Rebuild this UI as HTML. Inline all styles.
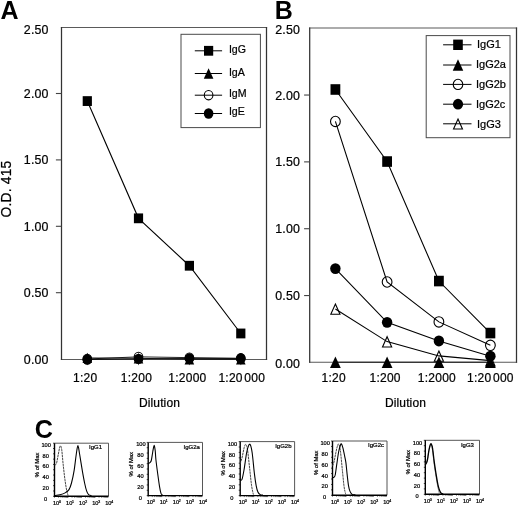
<!DOCTYPE html>
<html><head><meta charset="utf-8"><title>Figure</title>
<style>
html,body{margin:0;padding:0;background:#fff;}
body{width:520px;height:507px;overflow:hidden;font-family:"Liberation Sans",sans-serif;}
svg{display:block;will-change:transform;}
</style></head><body>
<svg width="520" height="507" viewBox="0 0 520 507" font-family="Liberation Sans, sans-serif">
<rect width="520" height="507" fill="#fff"/>
<defs><filter id="soft" x="-5%" y="-5%" width="110%" height="110%"><feGaussianBlur stdDeviation="0.4"/></filter></defs>
<text x="0.60" y="19.20" font-size="25.0" text-anchor="start" font-weight="bold" fill="#000" stroke="#000" stroke-width="0" >A</text>
<text x="274.80" y="19.00" font-size="25.0" text-anchor="start" font-weight="bold" fill="#000" stroke="#000" stroke-width="0" >B</text>
<text x="34.70" y="437.50" font-size="25.2" text-anchor="start" font-weight="bold" fill="#000" stroke="#000" stroke-width="0" >C</text>
<path d="M60.9,27.5 H267.1 M60.9,359.5 H267.1" fill="none" stroke="#5a5a5a" stroke-width="1.15"/>
<path d="M61.5,27.0 V360.0 M266.5,27.0 V360.0" fill="none" stroke="#333" stroke-width="1.25"/>
<line x1="55.9" y1="93.50" x2="61.5" y2="93.50" stroke="#444" stroke-width="1.1"/>
<line x1="55.9" y1="159.90" x2="61.5" y2="159.90" stroke="#444" stroke-width="1.1"/>
<line x1="55.9" y1="226.30" x2="61.5" y2="226.30" stroke="#444" stroke-width="1.1"/>
<line x1="55.9" y1="292.70" x2="61.5" y2="292.70" stroke="#444" stroke-width="1.1"/>
<line x1="87.30" y1="359.5" x2="87.30" y2="365.1" stroke="#555" stroke-width="0.9"/>
<line x1="138.50" y1="359.5" x2="138.50" y2="365.1" stroke="#555" stroke-width="0.9"/>
<line x1="189.40" y1="359.5" x2="189.40" y2="365.1" stroke="#555" stroke-width="0.9"/>
<line x1="240.80" y1="359.5" x2="240.80" y2="365.1" stroke="#555" stroke-width="0.9"/>
<text x="23.80" y="33.60" font-size="12.4" text-anchor="start" font-weight="normal" fill="#000" stroke="#000" stroke-width="0.22" letter-spacing="0.2">2.50</text>
<text x="23.80" y="98.00" font-size="12.4" text-anchor="start" font-weight="normal" fill="#000" stroke="#000" stroke-width="0.22" letter-spacing="0.2">2.00</text>
<text x="23.80" y="164.40" font-size="12.4" text-anchor="start" font-weight="normal" fill="#000" stroke="#000" stroke-width="0.22" letter-spacing="0.2">1.50</text>
<text x="23.80" y="230.80" font-size="12.4" text-anchor="start" font-weight="normal" fill="#000" stroke="#000" stroke-width="0.22" letter-spacing="0.2">1.00</text>
<text x="23.80" y="297.20" font-size="12.4" text-anchor="start" font-weight="normal" fill="#000" stroke="#000" stroke-width="0.22" letter-spacing="0.2">0.50</text>
<text x="23.80" y="364.00" font-size="12.4" text-anchor="start" font-weight="normal" fill="#000" stroke="#000" stroke-width="0.22" letter-spacing="0.2">0.00</text>
<polyline points="87.30,358.97 138.50,356.84 189.40,357.64 240.80,358.30" fill="none" stroke="#000" stroke-width="0.85" />
<polyline points="87.30,357.91 138.50,358.30 189.40,359.23 240.80,359.37" fill="none" stroke="#000" stroke-width="0.85" />
<polyline points="87.30,359.50 138.50,358.97 189.40,358.44 240.80,358.44" fill="none" stroke="#000" stroke-width="0.85" />
<polyline points="87.30,101.07 138.50,218.33 189.40,265.74 240.80,333.47" fill="none" stroke="#000" stroke-width="1.1" />
<ellipse cx="87.30" cy="358.97" rx="4.3" ry="4.65" fill="none" stroke="#000" stroke-width="1.1"/>
<ellipse cx="138.50" cy="356.84" rx="4.3" ry="4.65" fill="none" stroke="#000" stroke-width="1.1"/>
<ellipse cx="189.40" cy="357.64" rx="4.3" ry="4.65" fill="none" stroke="#000" stroke-width="1.1"/>
<ellipse cx="240.80" cy="358.30" rx="4.3" ry="4.65" fill="none" stroke="#000" stroke-width="1.1"/>
<polygon points="87.30,352.71 92.10,363.11 82.50,363.11" fill="#000"/>
<polygon points="138.50,353.10 143.30,363.50 133.70,363.50" fill="#000"/>
<polygon points="189.40,354.03 194.20,364.43 184.60,364.43" fill="#000"/>
<polygon points="240.80,354.17 245.60,364.57 236.00,364.57" fill="#000"/>
<ellipse cx="87.30" cy="359.50" rx="4.8" ry="5.15" fill="#000"/>
<ellipse cx="138.50" cy="358.97" rx="4.8" ry="5.15" fill="#000"/>
<ellipse cx="189.40" cy="358.44" rx="4.8" ry="5.15" fill="#000"/>
<ellipse cx="240.80" cy="358.44" rx="4.8" ry="5.15" fill="#000"/>
<rect x="82.70" y="96.17" width="9.20" height="9.80" fill="#000"/>
<rect x="133.90" y="213.43" width="9.20" height="9.80" fill="#000"/>
<rect x="184.80" y="260.84" width="9.20" height="9.80" fill="#000"/>
<rect x="236.20" y="328.57" width="9.20" height="9.80" fill="#000"/>
<text x="73.00" y="381.70" font-size="12" text-anchor="start" font-weight="normal" fill="#000" stroke="#000" stroke-width="0.22"  letter-spacing="0.25">1:20</text>
<text x="120.80" y="381.70" font-size="12" text-anchor="start" font-weight="normal" fill="#000" stroke="#000" stroke-width="0.22"  letter-spacing="0.25">1:200</text>
<text x="168.30" y="381.70" font-size="12" text-anchor="start" font-weight="normal" fill="#000" stroke="#000" stroke-width="0.22"  letter-spacing="0.25">1:2000</text>
<text x="218.40" y="381.70" font-size="12" text-anchor="start" font-weight="normal" fill="#000" stroke="#000" stroke-width="0.22"  letter-spacing="0.25">1:20<tspan dx="1.6">000</tspan></text>
<text x="139.00" y="406.80" font-size="12" text-anchor="start" font-weight="normal" fill="#000" stroke="#000" stroke-width="0.22" letter-spacing="0.12">Dilution</text>
<text transform="translate(11.2,217.4) rotate(-90)" letter-spacing="0.2" font-size="13.8" fill="#000" stroke="#000" stroke-width="0.22">O.D. 415</text>
<rect x="181" y="34.3" width="79.4" height="93.3" fill="none" stroke="#4a4a4a" stroke-width="1.0"/>
<polyline points="194.80,50.80 222.10,50.80" fill="none" stroke="#000" stroke-width="1.0" />
<rect x="204.00" y="45.90" width="9.20" height="9.80" fill="#000"/>
<text x="228.90" y="53.00" font-size="10.6" text-anchor="start" font-weight="normal" fill="#000" stroke="#000" stroke-width="0.22" >IgG</text>
<polyline points="194.80,73.50 222.10,73.50" fill="none" stroke="#000" stroke-width="1.0" />
<polygon points="208.60,68.30 213.40,78.70 203.80,78.70" fill="#000"/>
<text x="228.90" y="75.90" font-size="10.6" text-anchor="start" font-weight="normal" fill="#000" stroke="#000" stroke-width="0.22" >IgA</text>
<polyline points="194.80,95.20 222.10,95.20" fill="none" stroke="#000" stroke-width="1.0" />
<ellipse cx="208.60" cy="95.20" rx="4.3" ry="4.65" fill="none" stroke="#000" stroke-width="1.1"/>
<text x="228.90" y="97.30" font-size="10.6" text-anchor="start" font-weight="normal" fill="#000" stroke="#000" stroke-width="0.22" >IgM</text>
<polyline points="194.80,113.50 222.10,113.50" fill="none" stroke="#000" stroke-width="1.0" />
<ellipse cx="208.60" cy="113.50" rx="4.8" ry="5.15" fill="#000"/>
<text x="228.90" y="115.30" font-size="10.6" text-anchor="start" font-weight="normal" fill="#000" stroke="#000" stroke-width="0.22" >IgE</text>
<path d="M309.09999999999997,28.0 H517.1 M309.09999999999997,362.2 H517.1" fill="none" stroke="#5a5a5a" stroke-width="1.15"/>
<path d="M309.7,27.5 V362.7 M516.5,27.5 V362.7" fill="none" stroke="#333" stroke-width="1.25"/>
<line x1="304.09999999999997" y1="95.04" x2="309.7" y2="95.04" stroke="#444" stroke-width="1.1"/>
<line x1="304.09999999999997" y1="161.88" x2="309.7" y2="161.88" stroke="#444" stroke-width="1.1"/>
<line x1="304.09999999999997" y1="228.72" x2="309.7" y2="228.72" stroke="#444" stroke-width="1.1"/>
<line x1="304.09999999999997" y1="295.56" x2="309.7" y2="295.56" stroke="#444" stroke-width="1.1"/>
<line x1="335.40" y1="362.2" x2="335.40" y2="367.8" stroke="#555" stroke-width="0.9"/>
<line x1="387.10" y1="362.2" x2="387.10" y2="367.8" stroke="#555" stroke-width="0.9"/>
<line x1="438.90" y1="362.2" x2="438.90" y2="367.8" stroke="#555" stroke-width="0.9"/>
<line x1="490.40" y1="362.2" x2="490.40" y2="367.8" stroke="#555" stroke-width="0.9"/>
<text x="275.20" y="34.10" font-size="12.4" text-anchor="start" font-weight="normal" fill="#000" stroke="#000" stroke-width="0.22" letter-spacing="0.2">2.50</text>
<text x="275.20" y="99.54" font-size="12.4" text-anchor="start" font-weight="normal" fill="#000" stroke="#000" stroke-width="0.22" letter-spacing="0.2">2.00</text>
<text x="275.20" y="166.38" font-size="12.4" text-anchor="start" font-weight="normal" fill="#000" stroke="#000" stroke-width="0.22" letter-spacing="0.2">1.50</text>
<text x="275.20" y="233.22" font-size="12.4" text-anchor="start" font-weight="normal" fill="#000" stroke="#000" stroke-width="0.22" letter-spacing="0.2">1.00</text>
<text x="275.20" y="300.06" font-size="12.4" text-anchor="start" font-weight="normal" fill="#000" stroke="#000" stroke-width="0.22" letter-spacing="0.2">0.50</text>
<text x="275.20" y="367.50" font-size="12.4" text-anchor="start" font-weight="normal" fill="#000" stroke="#000" stroke-width="0.22" letter-spacing="0.2">0.00</text>
<polyline points="335.40,362.20 387.10,362.20 438.90,362.20 490.40,362.20" fill="none" stroke="#000" stroke-width="0.85" />
<polyline points="335.40,309.00 387.10,341.61 438.90,355.92 490.40,360.60" fill="none" stroke="#000" stroke-width="1.1" />
<polyline points="335.40,268.62 387.10,322.36 438.90,340.94 490.40,356.18" fill="none" stroke="#000" stroke-width="1.1" />
<polyline points="335.40,121.44 387.10,281.99 438.90,321.90 490.40,345.36" fill="none" stroke="#000" stroke-width="1.1" />
<polyline points="335.40,89.49 387.10,161.55 438.90,281.06 490.40,333.06" fill="none" stroke="#000" stroke-width="1.1" />
<polygon points="335.40,356.38 340.78,368.02 330.02,368.02" fill="#000"/>
<polygon points="387.10,356.38 392.48,368.02 381.72,368.02" fill="#000"/>
<polygon points="438.90,356.38 444.28,368.02 433.52,368.02" fill="#000"/>
<polygon points="490.40,356.38 495.78,368.02 485.02,368.02" fill="#000"/>
<polygon points="335.40,304.07 339.98,314.32 330.82,314.32" fill="none" stroke="#000" stroke-width="1.1" stroke-linejoin="miter"/>
<polygon points="387.10,336.69 391.68,346.94 382.52,346.94" fill="none" stroke="#000" stroke-width="1.1" stroke-linejoin="miter"/>
<polygon points="438.90,350.99 443.48,361.24 434.32,361.24" fill="none" stroke="#000" stroke-width="1.1" stroke-linejoin="miter"/>
<polygon points="490.40,355.67 494.98,365.92 485.82,365.92" fill="none" stroke="#000" stroke-width="1.1" stroke-linejoin="miter"/>
<ellipse cx="335.40" cy="268.62" rx="5.21472" ry="5.4796000000000005" fill="#000"/>
<ellipse cx="387.10" cy="322.36" rx="5.21472" ry="5.4796000000000005" fill="#000"/>
<ellipse cx="438.90" cy="340.94" rx="5.21472" ry="5.4796000000000005" fill="#000"/>
<ellipse cx="490.40" cy="356.18" rx="5.21472" ry="5.4796000000000005" fill="#000"/>
<ellipse cx="335.40" cy="121.44" rx="4.876" ry="5.21032" fill="none" stroke="#000" stroke-width="1.1"/>
<ellipse cx="387.10" cy="281.99" rx="4.876" ry="5.21032" fill="none" stroke="#000" stroke-width="1.1"/>
<ellipse cx="438.90" cy="321.90" rx="4.876" ry="5.21032" fill="none" stroke="#000" stroke-width="1.1"/>
<ellipse cx="490.40" cy="345.36" rx="4.876" ry="5.21032" fill="none" stroke="#000" stroke-width="1.1"/>
<rect x="330.51" y="84.20" width="9.79" height="10.59" fill="#000"/>
<rect x="382.21" y="156.25" width="9.79" height="10.59" fill="#000"/>
<rect x="434.01" y="275.76" width="9.79" height="10.59" fill="#000"/>
<rect x="485.51" y="327.76" width="9.79" height="10.59" fill="#000"/>
<text x="321.50" y="381.60" font-size="12" text-anchor="start" font-weight="normal" fill="#000" stroke="#000" stroke-width="0.22"  letter-spacing="0.25">1:20</text>
<text x="369.50" y="381.60" font-size="12" text-anchor="start" font-weight="normal" fill="#000" stroke="#000" stroke-width="0.22"  letter-spacing="0.25">1:200</text>
<text x="417.80" y="381.60" font-size="12" text-anchor="start" font-weight="normal" fill="#000" stroke="#000" stroke-width="0.22"  letter-spacing="0.25">1:2000</text>
<text x="467.00" y="381.80" font-size="12" text-anchor="start" font-weight="normal" fill="#000" stroke="#000" stroke-width="0.22"  letter-spacing="0.25">1:20<tspan dx="1.6">000</tspan></text>
<text x="385.00" y="406.80" font-size="12" text-anchor="start" font-weight="normal" fill="#000" stroke="#000" stroke-width="0.22" letter-spacing="0.12">Dilution</text>
<rect x="426.2" y="35.6" width="83.8" height="102.1" fill="none" stroke="#4a4a4a" stroke-width="1.0"/>
<polyline points="443.10,44.80 471.50,44.80" fill="none" stroke="#000" stroke-width="1.0" />
<rect x="453.19" y="39.60" width="9.61" height="10.40" fill="#000"/>
<text x="477.00" y="47.60" font-size="11" text-anchor="start" font-weight="normal" fill="#000" stroke="#000" stroke-width="0.22" >IgG1</text>
<polyline points="443.10,65.00 471.50,65.00" fill="none" stroke="#000" stroke-width="1.0" />
<polygon points="458.00,59.28 463.28,70.72 452.72,70.72" fill="#000"/>
<text x="476.00" y="68.30" font-size="11" text-anchor="start" font-weight="normal" fill="#000" stroke="#000" stroke-width="0.22" >IgG2a</text>
<polyline points="443.10,84.40 471.50,84.40" fill="none" stroke="#000" stroke-width="1.0" />
<ellipse cx="458.00" cy="84.40" rx="4.78" ry="5.108350000000001" fill="none" stroke="#000" stroke-width="1.1"/>
<text x="476.00" y="87.70" font-size="11" text-anchor="start" font-weight="normal" fill="#000" stroke="#000" stroke-width="0.22" >IgG2b</text>
<polyline points="443.10,104.20 471.50,104.20" fill="none" stroke="#000" stroke-width="1.0" />
<ellipse cx="458.00" cy="104.20" rx="5.1216" ry="5.38175" fill="#000"/>
<text x="476.00" y="107.50" font-size="11" text-anchor="start" font-weight="normal" fill="#000" stroke="#000" stroke-width="0.22" >IgG2c</text>
<polyline points="443.10,123.80 471.50,123.80" fill="none" stroke="#000" stroke-width="1.0" />
<polygon points="458.00,118.98 462.48,129.02 453.52,129.02" fill="none" stroke="#000" stroke-width="1.1" stroke-linejoin="miter"/>
<text x="477.00" y="127.70" font-size="11" text-anchor="start" font-weight="normal" fill="#000" stroke="#000" stroke-width="0.22" >IgG3</text>
<g filter="url(#soft)">
<path d="M54.5,443.2 H108.5 V496.3" fill="none" stroke="#444" stroke-width="0.9"/>
<path d="M54.5,443.2 V496.3 H108.5" fill="none" stroke="#000" stroke-width="1.4"/>
<line x1="53.0" y1="496.30" x2="54.5" y2="496.30" stroke="#000" stroke-width="0.7"/>
<line x1="53.0" y1="490.99" x2="54.5" y2="490.99" stroke="#000" stroke-width="0.7"/>
<line x1="53.0" y1="485.68" x2="54.5" y2="485.68" stroke="#000" stroke-width="0.7"/>
<line x1="53.0" y1="480.37" x2="54.5" y2="480.37" stroke="#000" stroke-width="0.7"/>
<line x1="53.0" y1="475.06" x2="54.5" y2="475.06" stroke="#000" stroke-width="0.7"/>
<line x1="53.0" y1="469.75" x2="54.5" y2="469.75" stroke="#000" stroke-width="0.7"/>
<line x1="53.0" y1="464.44" x2="54.5" y2="464.44" stroke="#000" stroke-width="0.7"/>
<line x1="53.0" y1="459.13" x2="54.5" y2="459.13" stroke="#000" stroke-width="0.7"/>
<line x1="53.0" y1="453.82" x2="54.5" y2="453.82" stroke="#000" stroke-width="0.7"/>
<line x1="53.0" y1="448.51" x2="54.5" y2="448.51" stroke="#000" stroke-width="0.7"/>
<line x1="53.0" y1="443.20" x2="54.5" y2="443.20" stroke="#000" stroke-width="0.7"/>
<line x1="54.50" y1="496.3" x2="54.50" y2="497.8" stroke="#000" stroke-width="0.5"/>
<line x1="58.56" y1="496.3" x2="58.56" y2="497.8" stroke="#000" stroke-width="0.5"/>
<line x1="60.94" y1="496.3" x2="60.94" y2="497.8" stroke="#000" stroke-width="0.5"/>
<line x1="62.63" y1="496.3" x2="62.63" y2="497.8" stroke="#000" stroke-width="0.5"/>
<line x1="63.94" y1="496.3" x2="63.94" y2="497.8" stroke="#000" stroke-width="0.5"/>
<line x1="65.01" y1="496.3" x2="65.01" y2="497.8" stroke="#000" stroke-width="0.5"/>
<line x1="65.91" y1="496.3" x2="65.91" y2="497.8" stroke="#000" stroke-width="0.5"/>
<line x1="66.69" y1="496.3" x2="66.69" y2="497.8" stroke="#000" stroke-width="0.5"/>
<line x1="67.38" y1="496.3" x2="67.38" y2="497.8" stroke="#000" stroke-width="0.5"/>
<line x1="68.00" y1="496.3" x2="68.00" y2="497.8" stroke="#000" stroke-width="0.5"/>
<line x1="72.06" y1="496.3" x2="72.06" y2="497.8" stroke="#000" stroke-width="0.5"/>
<line x1="74.44" y1="496.3" x2="74.44" y2="497.8" stroke="#000" stroke-width="0.5"/>
<line x1="76.13" y1="496.3" x2="76.13" y2="497.8" stroke="#000" stroke-width="0.5"/>
<line x1="77.44" y1="496.3" x2="77.44" y2="497.8" stroke="#000" stroke-width="0.5"/>
<line x1="78.51" y1="496.3" x2="78.51" y2="497.8" stroke="#000" stroke-width="0.5"/>
<line x1="79.41" y1="496.3" x2="79.41" y2="497.8" stroke="#000" stroke-width="0.5"/>
<line x1="80.19" y1="496.3" x2="80.19" y2="497.8" stroke="#000" stroke-width="0.5"/>
<line x1="80.88" y1="496.3" x2="80.88" y2="497.8" stroke="#000" stroke-width="0.5"/>
<line x1="81.50" y1="496.3" x2="81.50" y2="497.8" stroke="#000" stroke-width="0.5"/>
<line x1="85.56" y1="496.3" x2="85.56" y2="497.8" stroke="#000" stroke-width="0.5"/>
<line x1="87.94" y1="496.3" x2="87.94" y2="497.8" stroke="#000" stroke-width="0.5"/>
<line x1="89.63" y1="496.3" x2="89.63" y2="497.8" stroke="#000" stroke-width="0.5"/>
<line x1="90.94" y1="496.3" x2="90.94" y2="497.8" stroke="#000" stroke-width="0.5"/>
<line x1="92.01" y1="496.3" x2="92.01" y2="497.8" stroke="#000" stroke-width="0.5"/>
<line x1="92.91" y1="496.3" x2="92.91" y2="497.8" stroke="#000" stroke-width="0.5"/>
<line x1="93.69" y1="496.3" x2="93.69" y2="497.8" stroke="#000" stroke-width="0.5"/>
<line x1="94.38" y1="496.3" x2="94.38" y2="497.8" stroke="#000" stroke-width="0.5"/>
<line x1="95.00" y1="496.3" x2="95.00" y2="497.8" stroke="#000" stroke-width="0.5"/>
<line x1="99.06" y1="496.3" x2="99.06" y2="497.8" stroke="#000" stroke-width="0.5"/>
<line x1="101.44" y1="496.3" x2="101.44" y2="497.8" stroke="#000" stroke-width="0.5"/>
<line x1="103.13" y1="496.3" x2="103.13" y2="497.8" stroke="#000" stroke-width="0.5"/>
<line x1="104.44" y1="496.3" x2="104.44" y2="497.8" stroke="#000" stroke-width="0.5"/>
<line x1="105.51" y1="496.3" x2="105.51" y2="497.8" stroke="#000" stroke-width="0.5"/>
<line x1="106.41" y1="496.3" x2="106.41" y2="497.8" stroke="#000" stroke-width="0.5"/>
<line x1="107.19" y1="496.3" x2="107.19" y2="497.8" stroke="#000" stroke-width="0.5"/>
<line x1="107.88" y1="496.3" x2="107.88" y2="497.8" stroke="#000" stroke-width="0.5"/>
<text x="45.70" y="500.65" font-size="5.7" text-anchor="middle" font-weight="normal" fill="#000" stroke="#000" stroke-width="0.22" >0</text>
<text x="45.70" y="489.93" font-size="5.7" text-anchor="middle" font-weight="normal" fill="#000" stroke="#000" stroke-width="0.22" >20</text>
<text x="45.70" y="479.21" font-size="5.7" text-anchor="middle" font-weight="normal" fill="#000" stroke="#000" stroke-width="0.22" >40</text>
<text x="45.70" y="468.49" font-size="5.7" text-anchor="middle" font-weight="normal" fill="#000" stroke="#000" stroke-width="0.22" >60</text>
<text x="45.70" y="457.77" font-size="5.7" text-anchor="middle" font-weight="normal" fill="#000" stroke="#000" stroke-width="0.22" >80</text>
<text x="46.20" y="447.05" font-size="5.7" text-anchor="middle" font-weight="normal" fill="#000" stroke="#000" stroke-width="0.22" >100</text>
<text x="53.00" y="505.10" font-size="5.6" text-anchor="start" font-weight="normal" fill="#000" stroke="#000" stroke-width="0.22" >10<tspan font-size="3.5" dx="-0.2" dy="-2.1">0</tspan></text>
<text x="66.05" y="505.10" font-size="5.6" text-anchor="start" font-weight="normal" fill="#000" stroke="#000" stroke-width="0.22" >10<tspan font-size="3.5" dx="-0.2" dy="-2.1">1</tspan></text>
<text x="79.10" y="505.10" font-size="5.6" text-anchor="start" font-weight="normal" fill="#000" stroke="#000" stroke-width="0.22" >10<tspan font-size="3.5" dx="-0.2" dy="-2.1">2</tspan></text>
<text x="92.15" y="505.10" font-size="5.6" text-anchor="start" font-weight="normal" fill="#000" stroke="#000" stroke-width="0.22" >10<tspan font-size="3.5" dx="-0.2" dy="-2.1">3</tspan></text>
<text x="105.20" y="505.10" font-size="5.6" text-anchor="start" font-weight="normal" fill="#000" stroke="#000" stroke-width="0.22" >10<tspan font-size="3.5" dx="-0.2" dy="-2.1">4</tspan></text>
<text transform="translate(39.10,477.20) rotate(-90)" font-size="5.9" fill="#000" stroke="#000" stroke-width="0.22">% of Max</text>
<text x="89.00" y="449.40" font-size="6.0" text-anchor="start" font-weight="normal" fill="#000" stroke="#000" stroke-width="0.22" >IgG1</text>
<path d="M54.50,465.00 C54.80,464.78 55.79,465.31 56.40,463.60 C57.01,461.89 57.80,456.75 58.30,454.30 C58.80,451.85 59.15,449.66 59.50,448.30 C59.85,446.94 60.15,445.61 60.50,445.80 C60.85,445.99 61.28,446.62 61.70,449.50 C62.12,452.38 62.59,459.03 63.10,463.80 C63.61,468.57 64.32,475.01 64.90,479.30 C65.48,483.59 66.17,487.96 66.70,490.60 C67.23,493.24 67.96,494.97 68.20,495.80" fill="none" stroke="#3c3c3c" stroke-width="0.95" stroke-dasharray="2.4,0.6"/>
<path d="M54.50,495.70 C55.38,495.56 58.30,495.25 60.00,494.80 C61.70,494.35 63.66,493.73 65.10,492.90 C66.54,492.07 67.98,491.18 69.00,489.60 C70.02,488.02 70.68,486.02 71.50,483.00 C72.32,479.98 73.33,475.34 74.10,470.70 C74.87,466.06 75.69,458.02 76.30,454.00 C76.91,449.98 77.37,445.60 77.90,445.60 C78.43,445.60 78.90,449.98 79.60,454.00 C80.30,458.02 81.50,466.06 82.30,470.70 C83.10,475.34 83.91,479.77 84.60,483.00 C85.29,486.23 85.96,489.03 86.60,490.90 C87.24,492.77 87.82,493.93 88.60,494.70 C89.38,495.47 91.04,495.54 91.50,495.70" fill="none" stroke="#000" stroke-width="1.08" stroke-linejoin="round"/>
</g>
<g filter="url(#soft)">
<path d="M148.2,442.4 H202.5 V495.6" fill="none" stroke="#444" stroke-width="0.9"/>
<path d="M148.2,442.4 V495.6 H202.5" fill="none" stroke="#000" stroke-width="1.4"/>
<line x1="146.7" y1="495.60" x2="148.2" y2="495.60" stroke="#000" stroke-width="0.7"/>
<line x1="146.7" y1="490.28" x2="148.2" y2="490.28" stroke="#000" stroke-width="0.7"/>
<line x1="146.7" y1="484.96" x2="148.2" y2="484.96" stroke="#000" stroke-width="0.7"/>
<line x1="146.7" y1="479.64" x2="148.2" y2="479.64" stroke="#000" stroke-width="0.7"/>
<line x1="146.7" y1="474.32" x2="148.2" y2="474.32" stroke="#000" stroke-width="0.7"/>
<line x1="146.7" y1="469.00" x2="148.2" y2="469.00" stroke="#000" stroke-width="0.7"/>
<line x1="146.7" y1="463.68" x2="148.2" y2="463.68" stroke="#000" stroke-width="0.7"/>
<line x1="146.7" y1="458.36" x2="148.2" y2="458.36" stroke="#000" stroke-width="0.7"/>
<line x1="146.7" y1="453.04" x2="148.2" y2="453.04" stroke="#000" stroke-width="0.7"/>
<line x1="146.7" y1="447.72" x2="148.2" y2="447.72" stroke="#000" stroke-width="0.7"/>
<line x1="146.7" y1="442.40" x2="148.2" y2="442.40" stroke="#000" stroke-width="0.7"/>
<line x1="148.20" y1="495.6" x2="148.20" y2="497.1" stroke="#000" stroke-width="0.5"/>
<line x1="152.29" y1="495.6" x2="152.29" y2="497.1" stroke="#000" stroke-width="0.5"/>
<line x1="154.68" y1="495.6" x2="154.68" y2="497.1" stroke="#000" stroke-width="0.5"/>
<line x1="156.37" y1="495.6" x2="156.37" y2="497.1" stroke="#000" stroke-width="0.5"/>
<line x1="157.69" y1="495.6" x2="157.69" y2="497.1" stroke="#000" stroke-width="0.5"/>
<line x1="158.76" y1="495.6" x2="158.76" y2="497.1" stroke="#000" stroke-width="0.5"/>
<line x1="159.67" y1="495.6" x2="159.67" y2="497.1" stroke="#000" stroke-width="0.5"/>
<line x1="160.46" y1="495.6" x2="160.46" y2="497.1" stroke="#000" stroke-width="0.5"/>
<line x1="161.15" y1="495.6" x2="161.15" y2="497.1" stroke="#000" stroke-width="0.5"/>
<line x1="161.77" y1="495.6" x2="161.77" y2="497.1" stroke="#000" stroke-width="0.5"/>
<line x1="165.86" y1="495.6" x2="165.86" y2="497.1" stroke="#000" stroke-width="0.5"/>
<line x1="168.25" y1="495.6" x2="168.25" y2="497.1" stroke="#000" stroke-width="0.5"/>
<line x1="169.95" y1="495.6" x2="169.95" y2="497.1" stroke="#000" stroke-width="0.5"/>
<line x1="171.26" y1="495.6" x2="171.26" y2="497.1" stroke="#000" stroke-width="0.5"/>
<line x1="172.34" y1="495.6" x2="172.34" y2="497.1" stroke="#000" stroke-width="0.5"/>
<line x1="173.25" y1="495.6" x2="173.25" y2="497.1" stroke="#000" stroke-width="0.5"/>
<line x1="174.03" y1="495.6" x2="174.03" y2="497.1" stroke="#000" stroke-width="0.5"/>
<line x1="174.73" y1="495.6" x2="174.73" y2="497.1" stroke="#000" stroke-width="0.5"/>
<line x1="175.35" y1="495.6" x2="175.35" y2="497.1" stroke="#000" stroke-width="0.5"/>
<line x1="179.44" y1="495.6" x2="179.44" y2="497.1" stroke="#000" stroke-width="0.5"/>
<line x1="181.83" y1="495.6" x2="181.83" y2="497.1" stroke="#000" stroke-width="0.5"/>
<line x1="183.52" y1="495.6" x2="183.52" y2="497.1" stroke="#000" stroke-width="0.5"/>
<line x1="184.84" y1="495.6" x2="184.84" y2="497.1" stroke="#000" stroke-width="0.5"/>
<line x1="185.91" y1="495.6" x2="185.91" y2="497.1" stroke="#000" stroke-width="0.5"/>
<line x1="186.82" y1="495.6" x2="186.82" y2="497.1" stroke="#000" stroke-width="0.5"/>
<line x1="187.61" y1="495.6" x2="187.61" y2="497.1" stroke="#000" stroke-width="0.5"/>
<line x1="188.30" y1="495.6" x2="188.30" y2="497.1" stroke="#000" stroke-width="0.5"/>
<line x1="188.93" y1="495.6" x2="188.93" y2="497.1" stroke="#000" stroke-width="0.5"/>
<line x1="193.01" y1="495.6" x2="193.01" y2="497.1" stroke="#000" stroke-width="0.5"/>
<line x1="195.40" y1="495.6" x2="195.40" y2="497.1" stroke="#000" stroke-width="0.5"/>
<line x1="197.10" y1="495.6" x2="197.10" y2="497.1" stroke="#000" stroke-width="0.5"/>
<line x1="198.41" y1="495.6" x2="198.41" y2="497.1" stroke="#000" stroke-width="0.5"/>
<line x1="199.49" y1="495.6" x2="199.49" y2="497.1" stroke="#000" stroke-width="0.5"/>
<line x1="200.40" y1="495.6" x2="200.40" y2="497.1" stroke="#000" stroke-width="0.5"/>
<line x1="201.18" y1="495.6" x2="201.18" y2="497.1" stroke="#000" stroke-width="0.5"/>
<line x1="201.88" y1="495.6" x2="201.88" y2="497.1" stroke="#000" stroke-width="0.5"/>
<text x="140.40" y="499.85" font-size="5.7" text-anchor="middle" font-weight="normal" fill="#000" stroke="#000" stroke-width="0.22" >0</text>
<text x="140.40" y="489.13" font-size="5.7" text-anchor="middle" font-weight="normal" fill="#000" stroke="#000" stroke-width="0.22" >20</text>
<text x="140.40" y="478.41" font-size="5.7" text-anchor="middle" font-weight="normal" fill="#000" stroke="#000" stroke-width="0.22" >40</text>
<text x="140.40" y="467.69" font-size="5.7" text-anchor="middle" font-weight="normal" fill="#000" stroke="#000" stroke-width="0.22" >60</text>
<text x="140.40" y="456.97" font-size="5.7" text-anchor="middle" font-weight="normal" fill="#000" stroke="#000" stroke-width="0.22" >80</text>
<text x="140.90" y="446.25" font-size="5.7" text-anchor="middle" font-weight="normal" fill="#000" stroke="#000" stroke-width="0.22" >100</text>
<text x="146.70" y="504.40" font-size="5.6" text-anchor="start" font-weight="normal" fill="#000" stroke="#000" stroke-width="0.22" >10<tspan font-size="3.5" dx="-0.2" dy="-2.1">0</tspan></text>
<text x="159.75" y="504.40" font-size="5.6" text-anchor="start" font-weight="normal" fill="#000" stroke="#000" stroke-width="0.22" >10<tspan font-size="3.5" dx="-0.2" dy="-2.1">1</tspan></text>
<text x="172.80" y="504.40" font-size="5.6" text-anchor="start" font-weight="normal" fill="#000" stroke="#000" stroke-width="0.22" >10<tspan font-size="3.5" dx="-0.2" dy="-2.1">2</tspan></text>
<text x="185.85" y="504.40" font-size="5.6" text-anchor="start" font-weight="normal" fill="#000" stroke="#000" stroke-width="0.22" >10<tspan font-size="3.5" dx="-0.2" dy="-2.1">3</tspan></text>
<text x="198.90" y="504.40" font-size="5.6" text-anchor="start" font-weight="normal" fill="#000" stroke="#000" stroke-width="0.22" >10<tspan font-size="3.5" dx="-0.2" dy="-2.1">4</tspan></text>
<text transform="translate(132.80,476.40) rotate(-90)" font-size="5.9" fill="#000" stroke="#000" stroke-width="0.22">% of Max</text>
<text x="183.60" y="448.60" font-size="6.0" text-anchor="start" font-weight="normal" fill="#000" stroke="#000" stroke-width="0.22" >IgG2a</text>
<path d="M148.20,463.60 C148.52,463.41 149.69,462.98 150.20,462.40 C150.71,461.82 150.98,461.74 151.40,460.00 C151.82,458.26 152.37,453.84 152.80,451.50 C153.23,449.16 153.72,445.56 154.10,445.40 C154.48,445.24 154.91,448.24 155.20,450.50 C155.49,452.76 155.50,455.77 155.90,459.50 C156.30,463.23 157.12,469.51 157.70,473.80 C158.28,478.09 158.97,483.16 159.50,486.30 C160.03,489.44 160.54,492.01 161.00,493.40 C161.46,494.79 162.18,494.74 162.40,495.00" fill="none" stroke="#000" stroke-width="1.08" stroke-linejoin="round"/>
</g>
<g filter="url(#soft)">
<path d="M240.2,441.6 H294.6 V495.6" fill="none" stroke="#444" stroke-width="0.9"/>
<path d="M240.2,441.6 V495.6 H294.6" fill="none" stroke="#000" stroke-width="1.4"/>
<line x1="238.7" y1="495.60" x2="240.2" y2="495.60" stroke="#000" stroke-width="0.7"/>
<line x1="238.7" y1="490.20" x2="240.2" y2="490.20" stroke="#000" stroke-width="0.7"/>
<line x1="238.7" y1="484.80" x2="240.2" y2="484.80" stroke="#000" stroke-width="0.7"/>
<line x1="238.7" y1="479.40" x2="240.2" y2="479.40" stroke="#000" stroke-width="0.7"/>
<line x1="238.7" y1="474.00" x2="240.2" y2="474.00" stroke="#000" stroke-width="0.7"/>
<line x1="238.7" y1="468.60" x2="240.2" y2="468.60" stroke="#000" stroke-width="0.7"/>
<line x1="238.7" y1="463.20" x2="240.2" y2="463.20" stroke="#000" stroke-width="0.7"/>
<line x1="238.7" y1="457.80" x2="240.2" y2="457.80" stroke="#000" stroke-width="0.7"/>
<line x1="238.7" y1="452.40" x2="240.2" y2="452.40" stroke="#000" stroke-width="0.7"/>
<line x1="238.7" y1="447.00" x2="240.2" y2="447.00" stroke="#000" stroke-width="0.7"/>
<line x1="238.7" y1="441.60" x2="240.2" y2="441.60" stroke="#000" stroke-width="0.7"/>
<line x1="240.20" y1="495.6" x2="240.20" y2="497.1" stroke="#000" stroke-width="0.5"/>
<line x1="244.29" y1="495.6" x2="244.29" y2="497.1" stroke="#000" stroke-width="0.5"/>
<line x1="246.69" y1="495.6" x2="246.69" y2="497.1" stroke="#000" stroke-width="0.5"/>
<line x1="248.39" y1="495.6" x2="248.39" y2="497.1" stroke="#000" stroke-width="0.5"/>
<line x1="249.71" y1="495.6" x2="249.71" y2="497.1" stroke="#000" stroke-width="0.5"/>
<line x1="250.78" y1="495.6" x2="250.78" y2="497.1" stroke="#000" stroke-width="0.5"/>
<line x1="251.69" y1="495.6" x2="251.69" y2="497.1" stroke="#000" stroke-width="0.5"/>
<line x1="252.48" y1="495.6" x2="252.48" y2="497.1" stroke="#000" stroke-width="0.5"/>
<line x1="253.18" y1="495.6" x2="253.18" y2="497.1" stroke="#000" stroke-width="0.5"/>
<line x1="253.80" y1="495.6" x2="253.80" y2="497.1" stroke="#000" stroke-width="0.5"/>
<line x1="257.89" y1="495.6" x2="257.89" y2="497.1" stroke="#000" stroke-width="0.5"/>
<line x1="260.29" y1="495.6" x2="260.29" y2="497.1" stroke="#000" stroke-width="0.5"/>
<line x1="261.99" y1="495.6" x2="261.99" y2="497.1" stroke="#000" stroke-width="0.5"/>
<line x1="263.31" y1="495.6" x2="263.31" y2="497.1" stroke="#000" stroke-width="0.5"/>
<line x1="264.38" y1="495.6" x2="264.38" y2="497.1" stroke="#000" stroke-width="0.5"/>
<line x1="265.29" y1="495.6" x2="265.29" y2="497.1" stroke="#000" stroke-width="0.5"/>
<line x1="266.08" y1="495.6" x2="266.08" y2="497.1" stroke="#000" stroke-width="0.5"/>
<line x1="266.78" y1="495.6" x2="266.78" y2="497.1" stroke="#000" stroke-width="0.5"/>
<line x1="267.40" y1="495.6" x2="267.40" y2="497.1" stroke="#000" stroke-width="0.5"/>
<line x1="271.49" y1="495.6" x2="271.49" y2="497.1" stroke="#000" stroke-width="0.5"/>
<line x1="273.89" y1="495.6" x2="273.89" y2="497.1" stroke="#000" stroke-width="0.5"/>
<line x1="275.59" y1="495.6" x2="275.59" y2="497.1" stroke="#000" stroke-width="0.5"/>
<line x1="276.91" y1="495.6" x2="276.91" y2="497.1" stroke="#000" stroke-width="0.5"/>
<line x1="277.98" y1="495.6" x2="277.98" y2="497.1" stroke="#000" stroke-width="0.5"/>
<line x1="278.89" y1="495.6" x2="278.89" y2="497.1" stroke="#000" stroke-width="0.5"/>
<line x1="279.68" y1="495.6" x2="279.68" y2="497.1" stroke="#000" stroke-width="0.5"/>
<line x1="280.38" y1="495.6" x2="280.38" y2="497.1" stroke="#000" stroke-width="0.5"/>
<line x1="281.00" y1="495.6" x2="281.00" y2="497.1" stroke="#000" stroke-width="0.5"/>
<line x1="285.09" y1="495.6" x2="285.09" y2="497.1" stroke="#000" stroke-width="0.5"/>
<line x1="287.49" y1="495.6" x2="287.49" y2="497.1" stroke="#000" stroke-width="0.5"/>
<line x1="289.19" y1="495.6" x2="289.19" y2="497.1" stroke="#000" stroke-width="0.5"/>
<line x1="290.51" y1="495.6" x2="290.51" y2="497.1" stroke="#000" stroke-width="0.5"/>
<line x1="291.58" y1="495.6" x2="291.58" y2="497.1" stroke="#000" stroke-width="0.5"/>
<line x1="292.49" y1="495.6" x2="292.49" y2="497.1" stroke="#000" stroke-width="0.5"/>
<line x1="293.28" y1="495.6" x2="293.28" y2="497.1" stroke="#000" stroke-width="0.5"/>
<line x1="293.98" y1="495.6" x2="293.98" y2="497.1" stroke="#000" stroke-width="0.5"/>
<text x="231.90" y="499.65" font-size="5.7" text-anchor="middle" font-weight="normal" fill="#000" stroke="#000" stroke-width="0.22" >0</text>
<text x="231.90" y="488.93" font-size="5.7" text-anchor="middle" font-weight="normal" fill="#000" stroke="#000" stroke-width="0.22" >20</text>
<text x="231.90" y="478.21" font-size="5.7" text-anchor="middle" font-weight="normal" fill="#000" stroke="#000" stroke-width="0.22" >40</text>
<text x="231.90" y="467.49" font-size="5.7" text-anchor="middle" font-weight="normal" fill="#000" stroke="#000" stroke-width="0.22" >60</text>
<text x="231.90" y="456.77" font-size="5.7" text-anchor="middle" font-weight="normal" fill="#000" stroke="#000" stroke-width="0.22" >80</text>
<text x="232.40" y="446.05" font-size="5.7" text-anchor="middle" font-weight="normal" fill="#000" stroke="#000" stroke-width="0.22" >100</text>
<text x="238.70" y="504.40" font-size="5.6" text-anchor="start" font-weight="normal" fill="#000" stroke="#000" stroke-width="0.22" >10<tspan font-size="3.5" dx="-0.2" dy="-2.1">0</tspan></text>
<text x="251.75" y="504.40" font-size="5.6" text-anchor="start" font-weight="normal" fill="#000" stroke="#000" stroke-width="0.22" >10<tspan font-size="3.5" dx="-0.2" dy="-2.1">1</tspan></text>
<text x="264.80" y="504.40" font-size="5.6" text-anchor="start" font-weight="normal" fill="#000" stroke="#000" stroke-width="0.22" >10<tspan font-size="3.5" dx="-0.2" dy="-2.1">2</tspan></text>
<text x="277.85" y="504.40" font-size="5.6" text-anchor="start" font-weight="normal" fill="#000" stroke="#000" stroke-width="0.22" >10<tspan font-size="3.5" dx="-0.2" dy="-2.1">3</tspan></text>
<text x="290.90" y="504.40" font-size="5.6" text-anchor="start" font-weight="normal" fill="#000" stroke="#000" stroke-width="0.22" >10<tspan font-size="3.5" dx="-0.2" dy="-2.1">4</tspan></text>
<text transform="translate(224.80,475.60) rotate(-90)" font-size="5.9" fill="#000" stroke="#000" stroke-width="0.22">% of Max</text>
<text x="275.20" y="447.80" font-size="6.0" text-anchor="start" font-weight="normal" fill="#000" stroke="#000" stroke-width="0.22" >IgG2b</text>
<path d="M240.20,463.80 C240.52,462.71 241.56,459.61 242.20,457.00 C242.84,454.39 243.64,449.52 244.20,447.50 C244.76,445.48 245.19,444.16 245.70,444.40 C246.21,444.64 246.78,445.22 247.40,449.00 C248.02,452.78 248.93,462.11 249.60,468.00 C250.27,473.89 250.99,481.54 251.60,485.80 C252.21,490.06 253.11,493.19 253.40,494.60" fill="none" stroke="#3c3c3c" stroke-width="0.95" stroke-dasharray="2.4,0.6"/>
<path d="M240.20,479.80 C240.49,479.74 241.39,480.97 242.00,479.40 C242.61,477.83 243.26,474.22 244.00,470.00 C244.74,465.78 245.86,456.90 246.60,453.00 C247.34,449.10 248.01,446.91 248.60,445.60 C249.19,444.29 249.72,443.62 250.30,444.80 C250.88,445.98 251.54,448.39 252.20,453.00 C252.86,457.61 253.76,468.35 254.40,473.60 C255.04,478.85 255.64,482.86 256.20,485.80 C256.76,488.74 257.26,490.59 257.90,492.00 C258.54,493.41 259.38,494.12 260.20,494.60 C261.02,495.08 262.55,494.94 263.00,495.00" fill="none" stroke="#000" stroke-width="1.08" stroke-linejoin="round"/>
</g>
<g filter="url(#soft)">
<path d="M332.5,441.0 H387.0 V495.3" fill="none" stroke="#444" stroke-width="0.9"/>
<path d="M332.5,441.0 V495.3 H387.0" fill="none" stroke="#000" stroke-width="1.4"/>
<line x1="331.0" y1="495.30" x2="332.5" y2="495.30" stroke="#000" stroke-width="0.7"/>
<line x1="331.0" y1="489.87" x2="332.5" y2="489.87" stroke="#000" stroke-width="0.7"/>
<line x1="331.0" y1="484.44" x2="332.5" y2="484.44" stroke="#000" stroke-width="0.7"/>
<line x1="331.0" y1="479.01" x2="332.5" y2="479.01" stroke="#000" stroke-width="0.7"/>
<line x1="331.0" y1="473.58" x2="332.5" y2="473.58" stroke="#000" stroke-width="0.7"/>
<line x1="331.0" y1="468.15" x2="332.5" y2="468.15" stroke="#000" stroke-width="0.7"/>
<line x1="331.0" y1="462.72" x2="332.5" y2="462.72" stroke="#000" stroke-width="0.7"/>
<line x1="331.0" y1="457.29" x2="332.5" y2="457.29" stroke="#000" stroke-width="0.7"/>
<line x1="331.0" y1="451.86" x2="332.5" y2="451.86" stroke="#000" stroke-width="0.7"/>
<line x1="331.0" y1="446.43" x2="332.5" y2="446.43" stroke="#000" stroke-width="0.7"/>
<line x1="331.0" y1="441.00" x2="332.5" y2="441.00" stroke="#000" stroke-width="0.7"/>
<line x1="332.50" y1="495.3" x2="332.50" y2="496.8" stroke="#000" stroke-width="0.5"/>
<line x1="336.60" y1="495.3" x2="336.60" y2="496.8" stroke="#000" stroke-width="0.5"/>
<line x1="339.00" y1="495.3" x2="339.00" y2="496.8" stroke="#000" stroke-width="0.5"/>
<line x1="340.70" y1="495.3" x2="340.70" y2="496.8" stroke="#000" stroke-width="0.5"/>
<line x1="342.02" y1="495.3" x2="342.02" y2="496.8" stroke="#000" stroke-width="0.5"/>
<line x1="343.10" y1="495.3" x2="343.10" y2="496.8" stroke="#000" stroke-width="0.5"/>
<line x1="344.01" y1="495.3" x2="344.01" y2="496.8" stroke="#000" stroke-width="0.5"/>
<line x1="344.80" y1="495.3" x2="344.80" y2="496.8" stroke="#000" stroke-width="0.5"/>
<line x1="345.50" y1="495.3" x2="345.50" y2="496.8" stroke="#000" stroke-width="0.5"/>
<line x1="346.12" y1="495.3" x2="346.12" y2="496.8" stroke="#000" stroke-width="0.5"/>
<line x1="350.23" y1="495.3" x2="350.23" y2="496.8" stroke="#000" stroke-width="0.5"/>
<line x1="352.63" y1="495.3" x2="352.63" y2="496.8" stroke="#000" stroke-width="0.5"/>
<line x1="354.33" y1="495.3" x2="354.33" y2="496.8" stroke="#000" stroke-width="0.5"/>
<line x1="355.65" y1="495.3" x2="355.65" y2="496.8" stroke="#000" stroke-width="0.5"/>
<line x1="356.73" y1="495.3" x2="356.73" y2="496.8" stroke="#000" stroke-width="0.5"/>
<line x1="357.64" y1="495.3" x2="357.64" y2="496.8" stroke="#000" stroke-width="0.5"/>
<line x1="358.43" y1="495.3" x2="358.43" y2="496.8" stroke="#000" stroke-width="0.5"/>
<line x1="359.13" y1="495.3" x2="359.13" y2="496.8" stroke="#000" stroke-width="0.5"/>
<line x1="359.75" y1="495.3" x2="359.75" y2="496.8" stroke="#000" stroke-width="0.5"/>
<line x1="363.85" y1="495.3" x2="363.85" y2="496.8" stroke="#000" stroke-width="0.5"/>
<line x1="366.25" y1="495.3" x2="366.25" y2="496.8" stroke="#000" stroke-width="0.5"/>
<line x1="367.95" y1="495.3" x2="367.95" y2="496.8" stroke="#000" stroke-width="0.5"/>
<line x1="369.27" y1="495.3" x2="369.27" y2="496.8" stroke="#000" stroke-width="0.5"/>
<line x1="370.35" y1="495.3" x2="370.35" y2="496.8" stroke="#000" stroke-width="0.5"/>
<line x1="371.26" y1="495.3" x2="371.26" y2="496.8" stroke="#000" stroke-width="0.5"/>
<line x1="372.05" y1="495.3" x2="372.05" y2="496.8" stroke="#000" stroke-width="0.5"/>
<line x1="372.75" y1="495.3" x2="372.75" y2="496.8" stroke="#000" stroke-width="0.5"/>
<line x1="373.38" y1="495.3" x2="373.38" y2="496.8" stroke="#000" stroke-width="0.5"/>
<line x1="377.48" y1="495.3" x2="377.48" y2="496.8" stroke="#000" stroke-width="0.5"/>
<line x1="379.88" y1="495.3" x2="379.88" y2="496.8" stroke="#000" stroke-width="0.5"/>
<line x1="381.58" y1="495.3" x2="381.58" y2="496.8" stroke="#000" stroke-width="0.5"/>
<line x1="382.90" y1="495.3" x2="382.90" y2="496.8" stroke="#000" stroke-width="0.5"/>
<line x1="383.98" y1="495.3" x2="383.98" y2="496.8" stroke="#000" stroke-width="0.5"/>
<line x1="384.89" y1="495.3" x2="384.89" y2="496.8" stroke="#000" stroke-width="0.5"/>
<line x1="385.68" y1="495.3" x2="385.68" y2="496.8" stroke="#000" stroke-width="0.5"/>
<line x1="386.38" y1="495.3" x2="386.38" y2="496.8" stroke="#000" stroke-width="0.5"/>
<text x="324.70" y="498.95" font-size="5.7" text-anchor="middle" font-weight="normal" fill="#000" stroke="#000" stroke-width="0.22" >0</text>
<text x="324.70" y="488.23" font-size="5.7" text-anchor="middle" font-weight="normal" fill="#000" stroke="#000" stroke-width="0.22" >20</text>
<text x="324.70" y="477.51" font-size="5.7" text-anchor="middle" font-weight="normal" fill="#000" stroke="#000" stroke-width="0.22" >40</text>
<text x="324.70" y="466.79" font-size="5.7" text-anchor="middle" font-weight="normal" fill="#000" stroke="#000" stroke-width="0.22" >60</text>
<text x="324.70" y="456.07" font-size="5.7" text-anchor="middle" font-weight="normal" fill="#000" stroke="#000" stroke-width="0.22" >80</text>
<text x="325.20" y="445.35" font-size="5.7" text-anchor="middle" font-weight="normal" fill="#000" stroke="#000" stroke-width="0.22" >100</text>
<text x="331.00" y="504.10" font-size="5.6" text-anchor="start" font-weight="normal" fill="#000" stroke="#000" stroke-width="0.22" >10<tspan font-size="3.5" dx="-0.2" dy="-2.1">0</tspan></text>
<text x="344.05" y="504.10" font-size="5.6" text-anchor="start" font-weight="normal" fill="#000" stroke="#000" stroke-width="0.22" >10<tspan font-size="3.5" dx="-0.2" dy="-2.1">1</tspan></text>
<text x="357.10" y="504.10" font-size="5.6" text-anchor="start" font-weight="normal" fill="#000" stroke="#000" stroke-width="0.22" >10<tspan font-size="3.5" dx="-0.2" dy="-2.1">2</tspan></text>
<text x="370.15" y="504.10" font-size="5.6" text-anchor="start" font-weight="normal" fill="#000" stroke="#000" stroke-width="0.22" >10<tspan font-size="3.5" dx="-0.2" dy="-2.1">3</tspan></text>
<text x="383.20" y="504.10" font-size="5.6" text-anchor="start" font-weight="normal" fill="#000" stroke="#000" stroke-width="0.22" >10<tspan font-size="3.5" dx="-0.2" dy="-2.1">4</tspan></text>
<text transform="translate(317.70,475.00) rotate(-90)" font-size="5.9" fill="#000" stroke="#000" stroke-width="0.22">% of Max</text>
<text x="368.00" y="447.20" font-size="6.0" text-anchor="start" font-weight="normal" fill="#000" stroke="#000" stroke-width="0.22" >IgG2c</text>
<path d="M332.50,466.00 C332.74,465.36 333.54,463.76 334.00,462.00 C334.46,460.24 334.94,457.26 335.40,455.00 C335.86,452.74 336.42,449.68 336.90,447.90 C337.38,446.12 337.97,444.12 338.40,443.90 C338.83,443.68 339.25,445.12 339.60,446.50 C339.95,447.88 340.17,448.84 340.60,452.50 C341.03,456.16 341.74,463.91 342.30,469.40 C342.86,474.89 343.56,482.82 344.10,486.80 C344.64,490.78 345.44,493.10 345.70,494.30" fill="none" stroke="#3c3c3c" stroke-width="0.95" stroke-dasharray="2.4,0.6"/>
<path d="M332.50,477.90 C332.74,477.79 333.57,477.66 334.00,477.20 C334.43,476.74 334.74,477.21 335.20,475.00 C335.66,472.79 336.34,467.16 336.90,463.40 C337.46,459.64 338.14,454.41 338.70,451.50 C339.26,448.59 339.95,446.42 340.40,445.20 C340.85,443.98 341.10,443.47 341.50,443.90 C341.90,444.33 342.39,445.92 342.90,447.90 C343.41,449.88 344.22,453.95 344.70,456.30 C345.18,458.65 345.52,459.75 345.90,462.60 C346.28,465.45 346.68,470.42 347.10,474.10 C347.52,477.78 348.04,482.83 348.50,485.60 C348.96,488.37 349.38,489.96 350.00,491.40 C350.62,492.84 351.54,494.07 352.40,494.60 C353.26,495.13 354.92,494.68 355.40,494.70" fill="none" stroke="#000" stroke-width="1.08" stroke-linejoin="round"/>
</g>
<g filter="url(#soft)">
<path d="M425.3,440.3 H479.5 V494.3" fill="none" stroke="#444" stroke-width="0.9"/>
<path d="M425.3,440.3 V494.3 H479.5" fill="none" stroke="#000" stroke-width="1.4"/>
<line x1="423.8" y1="494.30" x2="425.3" y2="494.30" stroke="#000" stroke-width="0.7"/>
<line x1="423.8" y1="488.90" x2="425.3" y2="488.90" stroke="#000" stroke-width="0.7"/>
<line x1="423.8" y1="483.50" x2="425.3" y2="483.50" stroke="#000" stroke-width="0.7"/>
<line x1="423.8" y1="478.10" x2="425.3" y2="478.10" stroke="#000" stroke-width="0.7"/>
<line x1="423.8" y1="472.70" x2="425.3" y2="472.70" stroke="#000" stroke-width="0.7"/>
<line x1="423.8" y1="467.30" x2="425.3" y2="467.30" stroke="#000" stroke-width="0.7"/>
<line x1="423.8" y1="461.90" x2="425.3" y2="461.90" stroke="#000" stroke-width="0.7"/>
<line x1="423.8" y1="456.50" x2="425.3" y2="456.50" stroke="#000" stroke-width="0.7"/>
<line x1="423.8" y1="451.10" x2="425.3" y2="451.10" stroke="#000" stroke-width="0.7"/>
<line x1="423.8" y1="445.70" x2="425.3" y2="445.70" stroke="#000" stroke-width="0.7"/>
<line x1="423.8" y1="440.30" x2="425.3" y2="440.30" stroke="#000" stroke-width="0.7"/>
<line x1="425.30" y1="494.3" x2="425.30" y2="495.8" stroke="#000" stroke-width="0.5"/>
<line x1="429.38" y1="494.3" x2="429.38" y2="495.8" stroke="#000" stroke-width="0.5"/>
<line x1="431.76" y1="494.3" x2="431.76" y2="495.8" stroke="#000" stroke-width="0.5"/>
<line x1="433.46" y1="494.3" x2="433.46" y2="495.8" stroke="#000" stroke-width="0.5"/>
<line x1="434.77" y1="494.3" x2="434.77" y2="495.8" stroke="#000" stroke-width="0.5"/>
<line x1="435.84" y1="494.3" x2="435.84" y2="495.8" stroke="#000" stroke-width="0.5"/>
<line x1="436.75" y1="494.3" x2="436.75" y2="495.8" stroke="#000" stroke-width="0.5"/>
<line x1="437.54" y1="494.3" x2="437.54" y2="495.8" stroke="#000" stroke-width="0.5"/>
<line x1="438.23" y1="494.3" x2="438.23" y2="495.8" stroke="#000" stroke-width="0.5"/>
<line x1="438.85" y1="494.3" x2="438.85" y2="495.8" stroke="#000" stroke-width="0.5"/>
<line x1="442.93" y1="494.3" x2="442.93" y2="495.8" stroke="#000" stroke-width="0.5"/>
<line x1="445.31" y1="494.3" x2="445.31" y2="495.8" stroke="#000" stroke-width="0.5"/>
<line x1="447.01" y1="494.3" x2="447.01" y2="495.8" stroke="#000" stroke-width="0.5"/>
<line x1="448.32" y1="494.3" x2="448.32" y2="495.8" stroke="#000" stroke-width="0.5"/>
<line x1="449.39" y1="494.3" x2="449.39" y2="495.8" stroke="#000" stroke-width="0.5"/>
<line x1="450.30" y1="494.3" x2="450.30" y2="495.8" stroke="#000" stroke-width="0.5"/>
<line x1="451.09" y1="494.3" x2="451.09" y2="495.8" stroke="#000" stroke-width="0.5"/>
<line x1="451.78" y1="494.3" x2="451.78" y2="495.8" stroke="#000" stroke-width="0.5"/>
<line x1="452.40" y1="494.3" x2="452.40" y2="495.8" stroke="#000" stroke-width="0.5"/>
<line x1="456.48" y1="494.3" x2="456.48" y2="495.8" stroke="#000" stroke-width="0.5"/>
<line x1="458.86" y1="494.3" x2="458.86" y2="495.8" stroke="#000" stroke-width="0.5"/>
<line x1="460.56" y1="494.3" x2="460.56" y2="495.8" stroke="#000" stroke-width="0.5"/>
<line x1="461.87" y1="494.3" x2="461.87" y2="495.8" stroke="#000" stroke-width="0.5"/>
<line x1="462.94" y1="494.3" x2="462.94" y2="495.8" stroke="#000" stroke-width="0.5"/>
<line x1="463.85" y1="494.3" x2="463.85" y2="495.8" stroke="#000" stroke-width="0.5"/>
<line x1="464.64" y1="494.3" x2="464.64" y2="495.8" stroke="#000" stroke-width="0.5"/>
<line x1="465.33" y1="494.3" x2="465.33" y2="495.8" stroke="#000" stroke-width="0.5"/>
<line x1="465.95" y1="494.3" x2="465.95" y2="495.8" stroke="#000" stroke-width="0.5"/>
<line x1="470.03" y1="494.3" x2="470.03" y2="495.8" stroke="#000" stroke-width="0.5"/>
<line x1="472.41" y1="494.3" x2="472.41" y2="495.8" stroke="#000" stroke-width="0.5"/>
<line x1="474.11" y1="494.3" x2="474.11" y2="495.8" stroke="#000" stroke-width="0.5"/>
<line x1="475.42" y1="494.3" x2="475.42" y2="495.8" stroke="#000" stroke-width="0.5"/>
<line x1="476.49" y1="494.3" x2="476.49" y2="495.8" stroke="#000" stroke-width="0.5"/>
<line x1="477.40" y1="494.3" x2="477.40" y2="495.8" stroke="#000" stroke-width="0.5"/>
<line x1="478.19" y1="494.3" x2="478.19" y2="495.8" stroke="#000" stroke-width="0.5"/>
<line x1="478.88" y1="494.3" x2="478.88" y2="495.8" stroke="#000" stroke-width="0.5"/>
<text x="417.00" y="498.35" font-size="5.7" text-anchor="middle" font-weight="normal" fill="#000" stroke="#000" stroke-width="0.22" >0</text>
<text x="417.00" y="487.63" font-size="5.7" text-anchor="middle" font-weight="normal" fill="#000" stroke="#000" stroke-width="0.22" >20</text>
<text x="417.00" y="476.91" font-size="5.7" text-anchor="middle" font-weight="normal" fill="#000" stroke="#000" stroke-width="0.22" >40</text>
<text x="417.00" y="466.19" font-size="5.7" text-anchor="middle" font-weight="normal" fill="#000" stroke="#000" stroke-width="0.22" >60</text>
<text x="417.00" y="455.47" font-size="5.7" text-anchor="middle" font-weight="normal" fill="#000" stroke="#000" stroke-width="0.22" >80</text>
<text x="417.50" y="444.75" font-size="5.7" text-anchor="middle" font-weight="normal" fill="#000" stroke="#000" stroke-width="0.22" >100</text>
<text x="423.80" y="503.10" font-size="5.6" text-anchor="start" font-weight="normal" fill="#000" stroke="#000" stroke-width="0.22" >10<tspan font-size="3.5" dx="-0.2" dy="-2.1">0</tspan></text>
<text x="436.85" y="503.10" font-size="5.6" text-anchor="start" font-weight="normal" fill="#000" stroke="#000" stroke-width="0.22" >10<tspan font-size="3.5" dx="-0.2" dy="-2.1">1</tspan></text>
<text x="449.90" y="503.10" font-size="5.6" text-anchor="start" font-weight="normal" fill="#000" stroke="#000" stroke-width="0.22" >10<tspan font-size="3.5" dx="-0.2" dy="-2.1">2</tspan></text>
<text x="462.95" y="503.10" font-size="5.6" text-anchor="start" font-weight="normal" fill="#000" stroke="#000" stroke-width="0.22" >10<tspan font-size="3.5" dx="-0.2" dy="-2.1">3</tspan></text>
<text x="476.00" y="503.10" font-size="5.6" text-anchor="start" font-weight="normal" fill="#000" stroke="#000" stroke-width="0.22" >10<tspan font-size="3.5" dx="-0.2" dy="-2.1">4</tspan></text>
<text transform="translate(409.90,474.30) rotate(-90)" font-size="5.9" fill="#000" stroke="#000" stroke-width="0.22">% of Max</text>
<text x="460.90" y="446.50" font-size="6.0" text-anchor="start" font-weight="normal" fill="#000" stroke="#000" stroke-width="0.22" >IgG3</text>
<path d="M425.30,464.40 C425.64,463.54 426.74,461.62 427.40,459.00 C428.06,456.38 428.84,450.34 429.40,448.00 C429.96,445.66 430.42,444.16 430.90,444.40 C431.38,444.64 431.87,446.36 432.40,449.50 C432.93,452.64 433.62,459.76 434.20,464.00 C434.78,468.24 435.46,472.51 436.00,476.00 C436.54,479.49 437.06,483.00 437.60,485.80 C438.14,488.60 439.11,492.27 439.40,493.50" fill="none" stroke="#555" stroke-width="0.7"/>
<path d="M425.30,464.80 C425.60,464.22 426.62,463.49 427.20,461.20 C427.78,458.91 428.42,453.09 428.90,450.50 C429.38,447.91 429.86,446.09 430.20,445.00 C430.54,443.91 430.74,443.67 431.00,443.70 C431.26,443.73 431.54,444.42 431.80,445.20 C432.06,445.98 432.20,445.85 432.60,448.60 C433.00,451.35 433.74,458.29 434.30,462.40 C434.86,466.51 435.52,470.75 436.10,474.30 C436.68,477.85 437.32,481.96 437.90,484.60 C438.48,487.24 439.12,489.36 439.70,490.80 C440.28,492.24 440.94,493.14 441.50,493.60 C442.06,494.06 442.93,493.68 443.20,493.70" fill="none" stroke="#000" stroke-width="1.3" stroke-linejoin="round"/>
</g>
</svg>
</body></html>
